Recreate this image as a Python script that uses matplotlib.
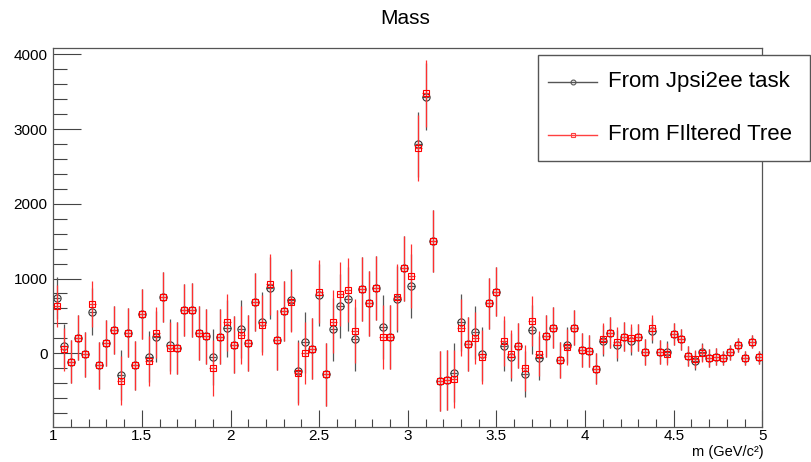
import numpy as np
import matplotlib
matplotlib.use("Agg")
import matplotlib.pyplot as plt
from matplotlib.ticker import MultipleLocator, FormatStrFormatter
from matplotlib.lines import Line2D
from matplotlib.patches import Rectangle

plt.rcParams['font.family'] = ['Liberation Sans', 'DejaVu Sans']

# 100 bins from 1 to 5 GeV/c^2
edges = np.linspace(1.0, 5.0, 101)
centers = 0.5 * (edges[:-1] + edges[1:])
half_width = 0.5 * (edges[1] - edges[0])

jpsi_task = [743, 102, -112, 209, -16, 557, -163, 134, 316, -290,
             276, -160, 525, -45, 222, 753, 107, 75, 575, 575,
             271, 227, -49, 222, 334, 116, 325, 138, 682, 418,
             873, 182, 561, 713, -243, 147, 62, 779, -281, 321,
             637, 722, 195, 860, 668, 873, 348, 214, 722, 1136,
             904, 2794, 3431, 1501, -366, -357, -259, 414, 124, 280,
             -13, 668, 824, 102, -45, 102, -281, 316, -63, 236,
             343, -90, 107, 343, 44, 31, -205, 169, 276, 107,
             222, 164, 214, 18, 302, 18, 18, 258, 187, -40,
             -99, 18, -63, -45, -63, 13, 111, -63, 155, -53]

filtered_tree = [632, 53, -112, 209, -16, 663, -163, 134, 316, -366,
                 276, -160, 525, -103, 276, 753, 67, 75, 575, 575,
                 271, 227, -196, 222, 414, 116, 249, 138, 682, 382,
                 922, 182, 561, 690, -265, 4, 62, 824, -281, 423,
                 789, 842, 298, 860, 668, 873, 218, 214, 757, 1136,
                 1033, 2749, 3476, 1501, -366, -357, -345, 345, 124, 208,
                 -55, 668, 824, 164, -13, 102, -200, 432, -5, 236,
                 343, -90, 89, 343, 44, 31, -205, 196, 276, 147,
                 222, 204, 214, 18, 343, 18, -9, 258, 187, -40,
                 -76, 0, -63, -45, -63, 13, 111, -63, 155, -53]

errors = [280, 290, 290, 300, 300, 310, 310, 310, 320, 330,
          330, 330, 340, 340, 340, 340, 350, 350, 350, 360,
          360, 370, 380, 370, 380, 380, 390, 380, 390, 400,
          410, 400, 400, 410, 420, 410, 410, 420, 420, 420,
          430, 430, 430, 430, 430, 430, 430, 430, 440, 430,
          430, 440, 450, 410, 400, 400, 390, 380, 360, 350,
          360, 340, 330, 340, 320, 300, 310, 330, 300, 280,
          270, 240, 240, 235, 225, 210, 210, 210, 210, 205,
          195, 187, 180, 175, 165, 155, 150, 143, 138, 134,
          125, 120, 115, 110, 100, 100, 100, 95, 89, 89]

fig = plt.figure(figsize=(8.11, 4.62), dpi=100)
ax = fig.add_axes([0.0657, 0.0751, 0.8743, 0.8204])

ax.errorbar(centers, jpsi_task, yerr=errors, xerr=half_width, fmt='o',
            color='#333333', ecolor='#555555', elinewidth=0.9,
            markersize=5.2, mfc='none', mew=0.8, capsize=0, zorder=2)
ax.errorbar(centers, filtered_tree, yerr=errors, xerr=half_width, fmt='s',
            color='red', ecolor='#ff3030', elinewidth=0.9,
            markersize=5.0, mfc='none', mew=0.8, capsize=0, zorder=3)

ax.set_xlim(1, 5)
ax.set_ylim(-990, 4080)
ax.xaxis.set_major_locator(MultipleLocator(0.5))
ax.xaxis.set_minor_locator(MultipleLocator(0.1))
ax.xaxis.set_major_formatter(FormatStrFormatter('%g'))
ax.yaxis.set_major_locator(MultipleLocator(1000))
ax.yaxis.set_minor_locator(MultipleLocator(200))
ax.tick_params(which='both', direction='in', color='#444444', labelsize=11, width=0.8)
ax.tick_params(which='major', length=12)
ax.tick_params(which='minor', length=6)
ax.tick_params(axis='y', which='major', length=20, pad=4)
ax.tick_params(axis='y', which='minor', length=10)
ax.tick_params(axis='x', pad=1)
for sp in ax.spines.values():
    sp.set_color('#555555')
    sp.set_linewidth(0.9)

fig.text(0.5, 0.961, 'Mass', ha='center', va='center', fontsize=15)
fig.text(0.941, 0.022, 'm (GeV/c²)', ha='right', va='center', fontsize=10.5)

# legend box (drawn in figure coordinates, overlapping the frame like ROOT)
x0, y0, w, h = 538.3 / 811, (462 - 160.7) / 462, (810 - 538.3) / 811, (160.7 - 55) / 462
fig.patches.append(Rectangle((x0, y0), w, h, transform=fig.transFigure,
                             facecolor='white', edgecolor='#555555', lw=1.0, zorder=5))
entries = [('From Jpsi2ee task', '#555555', 'o', 81.7),
           ('From FIltered Tree', '#ff4040', 's', 135.0)]
for label, col, mk, ypx in entries:
    yy = (462 - ypx) / 462
    fig.add_artist(Line2D([548 / 811, 597 / 811], [yy, yy], transform=fig.transFigure,
                          color=col, lw=1.0, zorder=6))
    fig.add_artist(Line2D([572.5 / 811], [yy], transform=fig.transFigure, marker=mk,
                          color=col, mfc='none', markersize=3.5, mew=0.8, zorder=6))
    fig.text(608 / 811, yy, label, ha='left', va='center', fontsize=16, zorder=7)

fig.savefig('out.png', dpi=100)
